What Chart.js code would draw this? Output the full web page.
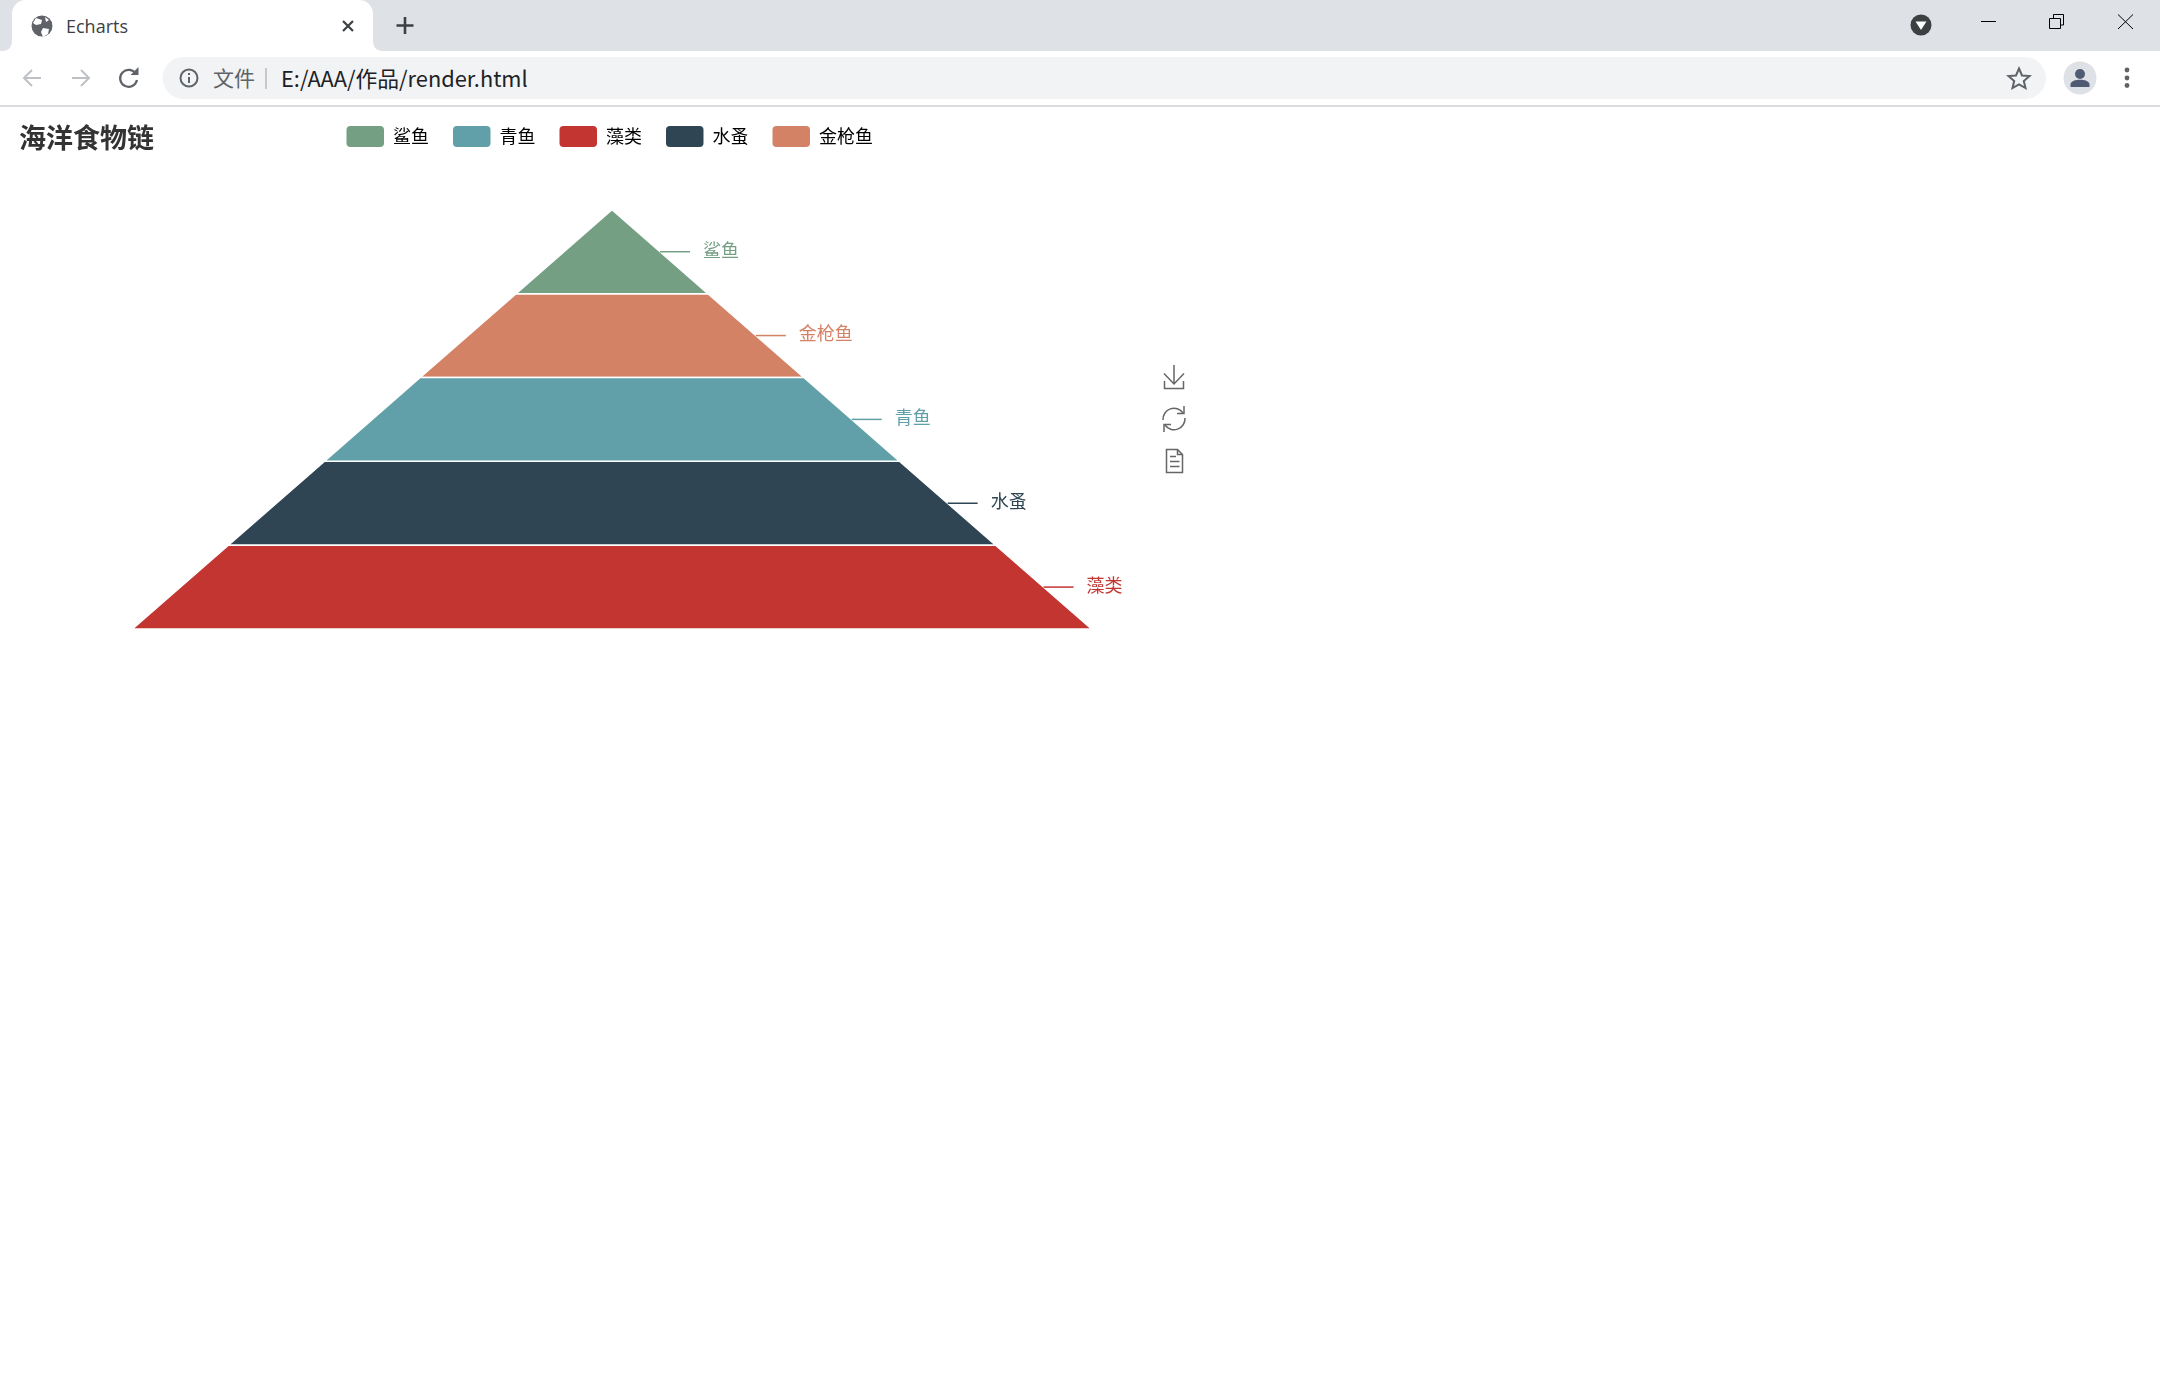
<!DOCTYPE html>
<html lang="zh">
<head>
<meta charset="utf-8">
<title>Echarts</title>
<style>
html,body{margin:0;padding:0;background:#fff;width:2160px;height:1380px;overflow:hidden;font-family:"Noto Sans CJK SC","Noto Sans",sans-serif}
#chrome{position:absolute;left:0;top:0}
.t{position:absolute;white-space:nowrap;line-height:1}
#wrap{position:absolute;left:0;top:106px;width:1224px;height:600px}
#tools{position:absolute;left:0;top:0}
</style>
</head>
<body>
<svg id="chrome" width="2160" height="108" xmlns="http://www.w3.org/2000/svg">
  <rect x="0" y="0" width="2160" height="51" fill="#dee1e6"/>
  <path d="M2 51 C9 51 12 47 12 40 L12 14 C12 6 18 0 26 0 L359 0 C367 0 373 6 373 14 L373 40 C373 47 376 51 383 51 Z" fill="#fff"/>
  <circle cx="42" cy="26" r="10.5" fill="#5f6368"/>
  <path d="M36 18 l6 2 l-1 4 l-5 1 l-3 -2 Z M43 28 l6 1 l-1 5 l-5 3 l-2 -5 Z M45 17 l4 3 l-3 2 Z" fill="#fff"/>
  <path d="M343 21 L353 31 M353 21 L343 31" stroke="#3c4043" stroke-width="2.2"/>
  <path d="M405 17 V34 M396.500 25.500 H413.500" stroke="#3c4043" stroke-width="2.6"/>
  <circle cx="1921" cy="25" r="10.500" fill="#3c4043"/>
  <path d="M1915.500 21.500 H1926.500 L1921 30 Z" fill="#fff"/>
  <path d="M1981 21.500 H1996" stroke="#000" stroke-width="1"/>
  <path d="M2049.500 18.500 H2060.500 V28.500 H2049.500 Z M2053.500 18 V14.500 H2063.500 V25 H2060.500" fill="none" stroke="#000" stroke-width="1"/>
  <path d="M2118 14.500 L2133 29 M2133 14.500 L2118 29" stroke="#000" stroke-width="1"/>
  <rect x="162.500" y="57" width="1883.500" height="42" rx="21" fill="#f1f3f4"/>
  <path d="M41 78 H24 M32 70 L24 78 L32 86" fill="none" stroke="#bdc1c6" stroke-width="2"/>
  <path d="M72 78 H89 M81 70 L89 78 L81 86" fill="none" stroke="#bdc1c6" stroke-width="2"/>
  <path d="M136 74 A8.500 8.500 0 1 0 137 80" fill="none" stroke="#5f6368" stroke-width="2.200"/>
  <path d="M130.500 75 L138.500 75 L138.500 67 Z" fill="#5f6368"/>
  <circle cx="189" cy="78" r="8.500" fill="none" stroke="#5f6368" stroke-width="2"/>
  <path d="M189 77 V83 M189 73 V75" stroke="#5f6368" stroke-width="2"/>
  <path d="M266 68 V89" stroke="#9aa0a6" stroke-width="1"/>
  <path d="M2019 68.500 L2022 75.500 L2029.500 76 L2023.800 81 L2025.500 88 L2019 84.300 L2012.500 88 L2014.200 81 L2008.500 76 L2016 75.500 Z" fill="none" stroke="#5f6368" stroke-width="2"/>
  <circle cx="2080" cy="78" r="16.500" fill="#dee1e6"/>
  <circle cx="2080" cy="74" r="5" fill="#4f5b73"/>
  <path d="M2070.500 87 V84.500 C2070.500 81 2076 79.800 2080 79.800 C2084 79.800 2089.500 81 2089.500 84.500 V87 Z" fill="#4f5b73"/>
  <circle cx="2127" cy="70" r="2.400" fill="#5f6368"/>
  <circle cx="2127" cy="78" r="2.400" fill="#5f6368"/>
  <circle cx="2127" cy="85.500" r="2.400" fill="#5f6368"/>
  <rect x="0" y="105" width="2160" height="2" fill="#dadce0"/>
</svg>
<div class="t" style="left:66px;top:17px;font-size:18px;color:#3c4043;font-family:'Open Sans','Noto Sans',sans-serif">Echarts</div>
<div class="t" style="left:213px;top:67px;font-size:21px;color:#5f6368">文件</div>
<div class="t" style="left:281px;top:66.5px;font-size:21.8px;color:#202124">E:/AAA/作品/render.html</div>

<div id="wrap"><canvas id="c" width="1224" height="600"></canvas></div>

<svg id="tools" width="2160" height="700" xmlns="http://www.w3.org/2000/svg" style="pointer-events:none">
  <g fill="none" stroke="#666" stroke-width="1.500">
    <path d="M1174 365 V384 M1164 373.500 L1174 384 L1184 373.500 M1164.500 381 V388.500 H1183.500 V381"/>
    <path d="M1163 420 A11 11 0 0 1 1183 413 M1185 418 A11 11 0 0 1 1165 425"/>
    <path d="M1184 406 V413.500 H1177 M1164 432 V424.500 H1171"/>
    <path d="M1166.500 449.500 H1177.500 L1182.500 454.500 V472.500 H1166.500 Z M1177.500 449.500 V454.500 H1182.500 M1170 456.500 H1176 M1170 461.500 H1179.500 M1170 466.500 H1179.500"/>
  </g>
</svg>

<script src="https://cdn.jsdelivr.net/npm/chart.js@4/dist/chart.umd.min.js"></script>
<script>
const chartTitle = '海洋食物链';
const categories = ['鲨鱼', '青鱼', '藻类', '水蚤', '金枪鱼'];
const values = [20, 60, 100, 80, 40];
const colors = ['#749f83', '#61a0a8', '#c23531', '#2f4554', '#d48265'];

const cjk = '"Noto Sans CJK SC","Noto Sans",sans-serif';
const order = values.map((v, i) => i).sort((a, b) => values[a] - values[b]);

// each layer spans from the previous (narrower) value to its own value
function layer(i) {
  const rank = order.indexOf(i);
  const prev = rank === 0 ? 0 : values[order[rank - 1]];
  const v = values[i];
  return { rank, prev, v };
}

const datasets = categories.map((name, i) => {
  const { rank, prev, v } = layer(i);
  return {
    label: name,
    data: [
      { x: -prev / 2, y: rank },
      { x: prev / 2, y: rank },
      { x: v / 2, y: rank + 1 },
      { x: -v / 2, y: rank + 1 },
      { x: -prev / 2, y: rank }
    ],
    showLine: true,
    fill: 'shape',
    tension: 0,
    clip: false,
    backgroundColor: colors[i],
    borderColor: '#fff',
    borderWidth: 1.5,
    borderJoinStyle: 'bevel',
    pointRadius: 0,
    pointHoverRadius: 0
  };
});

const funnelLabels = {
  id: 'funnelLabels',
  afterLayout(chart) {
    chart.titleBlock.left = 19;
    chart.titleBlock.top = 16;
    chart.titleBlock.bottom = chart.titleBlock.top + 32.4;
    chart.legend.top = -4;
    chart.legend.bottom = chart.legend.top + 69;
    chart.legend.left -= 4.5;
  },
  afterDatasetsDraw(chart) {
    const { ctx, scales: { x, y } } = chart;
    ctx.save();
    ctx.font = '18px ' + cjk;
    ctx.textBaseline = 'middle';
    ctx.textAlign = 'left';
    ctx.lineWidth = 1.5;
    categories.forEach((name, i) => {
      const { rank, prev, v } = layer(i);
      const px = x.getPixelForValue((prev + v) / 4);
      const py = y.getPixelForValue(rank + 0.5);
      ctx.strokeStyle = colors[i];
      ctx.beginPath();
      ctx.moveTo(px, py);
      ctx.lineTo(px + 30, py);
      ctx.stroke();
      ctx.fillStyle = colors[i];
      ctx.fillText(name, px + 43, py - 2);
    });
    ctx.restore();
  }
};

new Chart(document.getElementById('c'), {
  type: 'scatter',
  data: { datasets },
  plugins: [funnelLabels],
  options: {
    responsive: false,
    animation: false,
    events: [],
    layout: { padding: { left: 132.5, right: 132.5, top: 16.4, bottom: 77 } },
    scales: {
      x: { type: 'linear', display: false, min: -50, max: 50 },
      y: { type: 'linear', display: false, min: 0, max: 5, reverse: true }
    },
    plugins: {
      tooltip: { enabled: false },
      title: {
        display: true,
        text: chartTitle,
        align: 'start',
        color: '#333',
        padding: 0,
        font: { family: cjk, size: 27, weight: 'bold', lineHeight: 1.2 }
      },
      legend: {
        display: true,
        position: 'top',
        labels: {
          boxWidth: 37.5,
          boxHeight: 21,
          padding: 24,
          color: '#444',
          useBorderRadius: true,
          borderRadius: 4,
          font: { family: cjk, size: 18 },
          generateLabels: () => categories.map((name, i) => ({
            text: name,
            fillStyle: colors[i],
            strokeStyle: colors[i],
            lineWidth: 0,
            borderRadius: 4,
            datasetIndex: i
          }))
        }
      }
    }
  }
});
</script>
</body>
</html>
